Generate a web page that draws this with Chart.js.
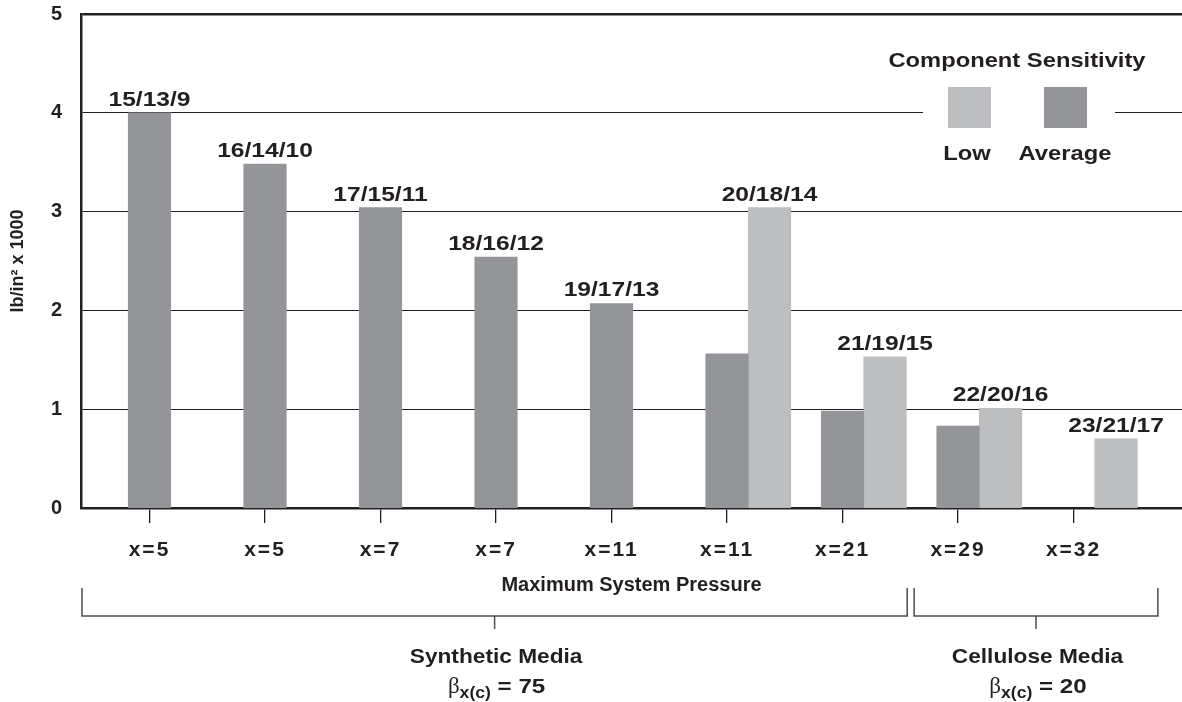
<!DOCTYPE html>
<html><head><meta charset="utf-8">
<script src="https://cdn.jsdelivr.net/npm/chart.js@4.4.1/dist/chart.umd.min.js"></script>
<style>html,body{margin:0;padding:0;background:#fff;} canvas{display:block;}</style>
</head><body>
<canvas id="c" width="1182" height="702"></canvas>
<script>
// ---- data ----
const categories = ['x=5','x=5','x=7','x=7','x=11','x=11','x=21','x=29','x=32'];
const averageValues = [4.00, 3.48, 3.04, 2.54, 2.07, 1.56, 0.98, 0.83, null];
const lowValues = [null, null, null, null, null, 3.04, 1.53, 1.01, 0.70];
const codeLabels = ['15/13/9','16/14/10','17/15/11','18/16/12','19/17/13','20/18/14','21/19/15','22/20/16','23/21/17'];
const yTicks = [0, 1, 2, 3, 4, 5];
const seriesNames = ['Average', 'Low'];
const legendTitle = 'Component Sensitivity';
const xTitle = 'Maximum System Pressure';
const yTitle = 'lb/in\u00B2 x 1000';
const groupNames = ['Synthetic Media', 'Cellulose Media'];
const groupBetas = ['75', '20'];
const groupFirst = [0, 7];
const groupLast = [6, 8];

// ---- style ----
const TEXT = '#231f20';
const DARK = '#939598';
const LIGHT = '#bcbec0';
const BRACKET = '#4d4d4f';
const SANS = '"Liberation Sans", Arial, Helvetica, sans-serif';
const X_MIN = -0.593, X_MAX = 8.939, SHIFT = 0.368;

function wideText(ctx, text, x, y, sx) {
  ctx.save();
  ctx.translate(x, y);
  ctx.scale(sx, 1);
  ctx.fillText(text, 0, 0);
  ctx.restore();
}

const plotPlugin = {
  id: 'decor',
  beforeDraw(chart) {
    const s = chart.scales.x;
    if (s && !s._lsPatched) {
      const orig = s.drawLabels;
      s.drawLabels = function (a) {
        const c = this.ctx; c.save(); c.letterSpacing = '2px'; orig.call(this, a); c.restore();
      };
      s._lsPatched = true;
    }
  },
  afterDatasetsDraw(chart) {
    const ctx = chart.ctx;
    const m0 = chart.getDatasetMeta(0), m1 = chart.getDatasetMeta(1);
    ctx.save();
    ctx.font = 'bold 21px ' + SANS;
    ctx.fillStyle = TEXT;
    ctx.textAlign = 'center';
    ctx.textBaseline = 'alphabetic';
    codeLabels.forEach((t, i) => {
      const el = (lowValues[i] != null) ? m1.data[i] : m0.data[i];
      if (!el) return;
      wideText(ctx, t, el.x, el.y - 7, 1.17);
    });
    ctx.restore();
  },
  afterDraw(chart) {
    const ctx = chart.ctx;
    const xs = chart.scales.x;
    const area = chart.chartArea;
    ctx.save();
    // legend
    ctx.fillStyle = '#fff';
    ctx.fillRect(923, 36, 192, 138);
    ctx.fillStyle = TEXT;
    ctx.textAlign = 'center';
    ctx.textBaseline = 'alphabetic';
    ctx.font = 'bold 21px ' + SANS;
    wideText(ctx, legendTitle, 1017, 67, 1.13);
    const order = [1, 0];
    const boxX = [948, 1044];
    const labX = [967, 1065];
    order.forEach((di, k) => {
      const ds = chart.data.datasets[di];
      ctx.fillStyle = ds.backgroundColor;
      ctx.fillRect(boxX[k], 87, 43, 41);
      ctx.fillStyle = TEXT;
      wideText(ctx, ds.label, labX[k], 160, 1.13);
    });
    // group brackets
    const lefts = [area.left + 1, xs.getPixelForValue(groupFirst[1] - 0.38)];
    const rights = [xs.getPixelForValue(groupLast[0] + 0.56), xs.getPixelForValue(groupLast[1] + 0.73)];
    ctx.strokeStyle = BRACKET;
    ctx.lineWidth = 1.5;
    groupNames.forEach((name, g) => {
      const l = lefts[g], r = rights[g], c = (l + r) / 2;
      ctx.beginPath();
      ctx.moveTo(l, 588); ctx.lineTo(l, 616); ctx.lineTo(r, 616); ctx.lineTo(r, 588);
      ctx.moveTo(c, 616); ctx.lineTo(c, 629);
      ctx.stroke();
      ctx.fillStyle = TEXT;
      ctx.textAlign = 'center';
      ctx.font = 'bold 21px ' + SANS;
      wideText(ctx, name, c + 1.5, 663, 1.08);
      // beta line
      const parts = [
        { t: '\u03B2', font: '23px "Liberation Serif", "DejaVu Serif", serif', dy: 0, sx: 1 },
        { t: 'x(c)', font: 'bold 16px ' + SANS, dy: 5, sx: 1.1 },
        { t: ' = ' + groupBetas[g], font: 'bold 21px ' + SANS, dy: 0, sx: 1.15 }
      ];
      ctx.textAlign = 'left';
      let total = 0;
      parts.forEach(p => { ctx.font = p.font; p.w = ctx.measureText(p.t).width * p.sx; total += p.w; });
      let x = c + 2 - total / 2;
      parts.forEach(p => { ctx.font = p.font; wideText(ctx, p.t, x, 693 + p.dy, p.sx); x += p.w; });
    });
    ctx.restore();
  }
};

new Chart(document.getElementById('c'), {
  type: 'bar',
  data: {
    datasets: [
      { label: seriesNames[0], data: averageValues.map((v, i) => ({ x: i, y: v })), backgroundColor: DARK, xAxisID: 'x', barThickness: 42.5, borderWidth: 0, grouped: false },
      { label: seriesNames[1], data: lowValues.map((v, i) => ({ x: i, y: v })), backgroundColor: LIGHT, xAxisID: 'x2', barThickness: 42.5, borderWidth: 0, grouped: false }
    ]
  },
  options: {
    responsive: false,
    animation: false,
    devicePixelRatio: 1,
    layout: { padding: { left: 0, top: 14, right: 0, bottom: 105 } },
    plugins: { legend: { display: false }, tooltip: { enabled: false } },
    scales: {
      x: {
        type: 'linear', min: X_MIN, max: X_MAX, offset: false,
        afterBuildTicks: (s) => { s.ticks = categories.map((_, i) => ({ value: i })); },
        afterFit: (s) => { s.height = 89; s.paddingLeft = 0; s.paddingRight = 0; },
        grid: { offset: false, drawOnChartArea: false, drawTicks: true, tickLength: 15, color: TEXT, lineWidth: 1.3 },
        border: { display: true, width: 2.5, color: TEXT },
        ticks: {
          autoSkip: false, maxRotation: 0, padding: 15, color: TEXT,
          font: { family: SANS, size: 21, weight: 'bold' },
          callback: (v) => categories[Math.round(v)]
        },
        title: { display: true, text: xTitle, color: TEXT, font: { family: SANS, size: 20, weight: 'bold' }, padding: { top: 11, bottom: 0 } }
      },
      x2: {
        type: 'linear', display: false, offset: false, grid: { offset: false },
        min: X_MIN - SHIFT, max: X_MAX - SHIFT,
        afterBuildTicks: (s) => { s.ticks = categories.map((_, i) => ({ value: i })); }
      },
      y: {
        min: yTicks[0], max: yTicks[yTicks.length - 1],
        afterBuildTicks: (s) => { s.ticks = yTicks.map(v => ({ value: v })); },
        afterFit: (s) => { s.width = 81; s.paddingTop = 0; s.paddingBottom = 0; },
        grid: {
          drawTicks: false, color: TEXT,
          lineWidth: (c) => c.tick.value === 0 ? 0 : (c.tick.value === 5 ? 2.5 : 1.1)
        },
        border: { display: true, width: 2.5, color: TEXT },
        ticks: { padding: 19, color: TEXT, font: { family: SANS, size: 20, weight: 'bold' } },
        title: { display: true, text: yTitle, color: TEXT, font: { family: SANS, size: 18, weight: 'bold' }, padding: { top: 7, bottom: 0 } }
      }
    }
  },
  plugins: [plotPlugin]
});
</script>
</body></html>
